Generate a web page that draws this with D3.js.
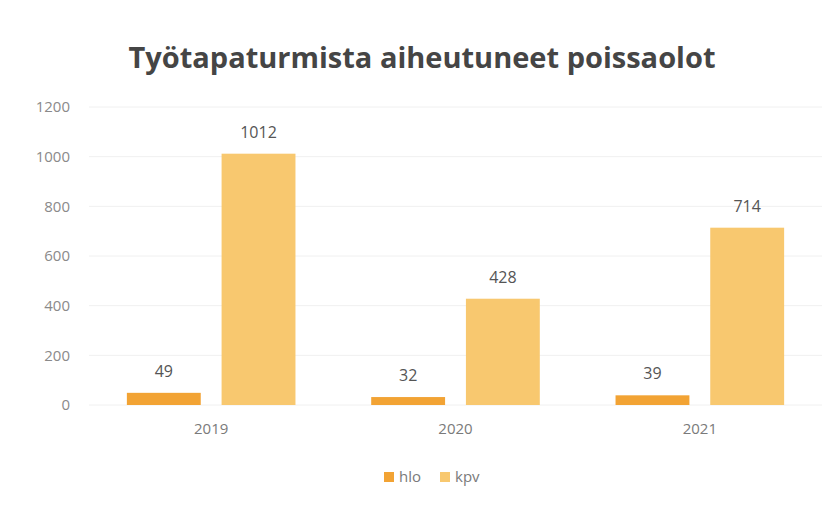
<!DOCTYPE html>
<html>
<head>
<meta charset="utf-8">
<script src="https://cdn.jsdelivr.net/npm/d3@7"></script>
<style>
  body { margin: 0; background: #fff; }
  text { font-family: "Open Sans", sans-serif; }
</style>
</head>
<body>
<div id="chart"></div>
<script>
// chart data
const years = ["2019", "2020", "2021"];
const seriesNames = ["hlo", "kpv"];
const hloValues = [49, 32, 39];
const kpvValues = [1012, 428, 714];
const yTicks = [0, 200, 400, 600, 800, 1000, 1200];

const colors = { hlo: "#f2a334", kpv: "#f8c86f" };

const W = 836, H = 507;
const margin = { top: 107, right: 14, bottom: 102, left: 89 };
const width = W - margin.left - margin.right;
const height = H - margin.top - margin.bottom;

const svg = d3.select("#chart").append("svg")
  .attr("width", W)
  .attr("height", H);

// title
svg.append("text")
  .attr("x", 422)
  .attr("y", 68)
  .attr("text-anchor", "middle")
  .style("font-size", "29px")
  .style("font-weight", "700")
  .attr("fill", "#454545")
  .text("Työtapaturmista aiheutuneet poissaolot");

const g = svg.append("g")
  .attr("transform", "translate(" + margin.left + "," + margin.top + ")");

// scales
const x0 = d3.scaleBand()
  .domain(years)
  .range([0, width])
  .paddingInner(0.31)
  .paddingOuter(0.155);

const x1 = d3.scaleBand()
  .domain(seriesNames)
  .range([0, x0.bandwidth()])
  .paddingInner(0.22);

const y = d3.scaleLinear()
  .domain([0, 1200])
  .range([height, 0]);

// gridlines
g.append("g")
  .selectAll("line")
  .data(yTicks)
  .join("line")
  .attr("x1", 0)
  .attr("x2", width)
  .attr("y1", d => y(d))
  .attr("y2", d => y(d))
  .attr("stroke", "#f0f0f0")
  .attr("stroke-width", 1);

// y axis labels
const yAxis = d3.axisLeft(y).tickValues(yTicks).tickFormat(d3.format("d"))
  .tickSize(0).tickPadding(19);
g.append("g")
  .call(yAxis)
  .call(a => a.select(".domain").remove())
  .selectAll("text")
  .style("font-size", "15px")
  .attr("fill", "#8a8a8a");

// x axis labels
const xAxis = d3.axisBottom(x0).tickSize(0).tickPadding(18);
g.append("g")
  .attr("transform", "translate(0," + height + ")")
  .call(xAxis)
  .call(a => a.select(".domain").remove())
  .selectAll("text")
  .style("font-size", "15px")
  .attr("fill", "#7a7a7a");

// bars
const rows = years.map((yr, i) => ({
  year: yr,
  values: [
    { key: "hlo", value: hloValues[i] },
    { key: "kpv", value: kpvValues[i] }
  ]
}));

const groups = g.selectAll(".year")
  .data(rows)
  .join("g")
  .attr("class", "year")
  .attr("transform", d => "translate(" + x0(d.year) + ",0)");

groups.selectAll("rect")
  .data(d => d.values)
  .join("rect")
  .attr("x", d => x1(d.key))
  .attr("y", d => y(d.value))
  .attr("width", x1.bandwidth())
  .attr("height", d => height - y(d.value))
  .attr("fill", d => colors[d.key]);

// value labels
groups.selectAll(".val")
  .data(d => d.values)
  .join("text")
  .attr("class", "val")
  .attr("x", d => x1(d.key) + x1.bandwidth() / 2)
  .attr("y", d => y(d.value) - 16)
  .attr("text-anchor", "middle")
  .style("font-size", "16px")
  .attr("fill", "#555")
  .text(d => d.value);

// legend
const legend = svg.append("g")
  .attr("transform", "translate(384,470)");

const items = legend.selectAll("g")
  .data(seriesNames)
  .join("g")
  .attr("transform", (d, i) => "translate(" + (i * 56) + ",0)");

items.append("rect")
  .attr("width", 10)
  .attr("height", 10)
  .attr("y", 2)
  .attr("fill", d => colors[d]);

items.append("text")
  .attr("x", 15)
  .attr("y", 12)
  .style("font-size", "15px")
  .attr("fill", "#7a7a7a")
  .text(d => d);
</script>
</body>
</html>
